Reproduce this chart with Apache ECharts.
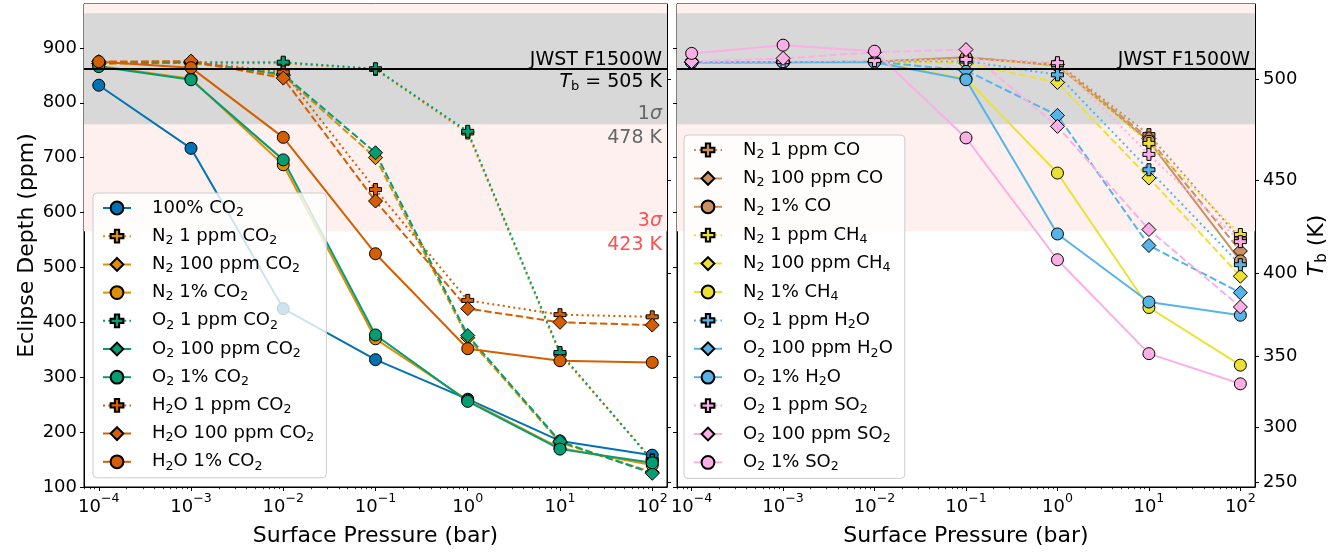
<!DOCTYPE html>
<html><head><meta charset="utf-8">
<script src="https://cdn.jsdelivr.net/npm/echarts@6/dist/echarts.min.js"></script>
<style>html,body{margin:0;padding:0;background:#fff}#c{width:1343px;height:552px}</style>
</head><body><div id="c"></div>
<script>
// ---------------- DATA ----------------
const PRESSURE_BAR = [1e-4, 1e-3, 1e-2, 1e-1, 1, 10, 100];
const X_TICK_EXPONENTS = [-4, -3, -2, -1, 0, 1, 2];
const Y_TICKS_PPM = [100, 200, 300, 400, 500, 600, 700, 800, 900];
const TB_TICKS_K = [250, 300, 350, 400, 450, 500];
const OBS_DEPTH_PPM = 862;
const OBS_TB_K = 505;
const SIGMA1_TB_K = 478;
const SIGMA3_TB_K = 423;

// Left panel (CO2 mixtures)
const co2_100pct      = [832, 717, 425, 332, 260, 184, 158];
const n2_1ppm_co2     = [872, 872, 872, 861, 745, 342, 150];
const n2_100ppm_co2   = [871, 873, 850, 700, 372, 181, 127];
const n2_1pct_co2     = [867, 844, 687, 370, 258, 171, 140];
const o2_1ppm_co2     = [874, 874, 874, 862, 748, 345, 148];
const o2_100ppm_co2   = [872, 874, 852, 709, 376, 183, 125];
const o2_1pct_co2     = [866, 842, 696, 377, 256, 169, 144];
const h2o_1ppm_co2    = [874, 875, 856, 642, 440, 414, 410];
const h2o_100ppm_co2  = [875, 876, 845, 621, 425, 400, 395];
const h2o_1pct_co2    = [875, 864, 737, 525, 352, 330, 327];

// Right panel (other absorbers)
const n2_1ppm_co      = [874, 874, 875, 881, 872, 742, 552];
const n2_100ppm_co    = [874, 874, 875, 882, 870, 735, 530];
const n2_1pct_co      = [874, 874, 875, 883, 868, 730, 512];
const n2_1ppm_ch4     = [874, 874, 875, 878, 870, 726, 560];
const n2_100ppm_ch4   = [874, 874, 875, 872, 837, 663, 484];
const n2_1pct_ch4     = [874, 874, 875, 844, 672, 427, 322];
const o2_1ppm_h2o     = [874, 874, 875, 876, 851, 678, 505];
const o2_100ppm_h2o   = [874, 874, 875, 859, 777, 540, 454];
const o2_1pct_h2o     = [874, 874, 874, 842, 561, 437, 413];
const o2_1ppm_so2     = [875, 875, 877, 879, 873, 706, 547];
const o2_100ppm_so2   = [875, 881, 892, 897, 757, 569, 428];
const o2_1pct_so2     = [890, 905, 894, 736, 514, 343, 288];

const LEFT_SERIES = [
  ['100% CO2', co2_100pct, '#0173B2', 'solid'],
  ['N2 1 ppm CO2', n2_1ppm_co2, '#DE8F05', 'dot'],
  ['N2 100 ppm CO2', n2_100ppm_co2, '#DE8F05', 'dash'],
  ['N2 1% CO2', n2_1pct_co2, '#DE8F05', 'solid'],
  ['O2 1 ppm CO2', o2_1ppm_co2, '#029E73', 'dot'],
  ['O2 100 ppm CO2', o2_100ppm_co2, '#029E73', 'dash'],
  ['O2 1% CO2', o2_1pct_co2, '#029E73', 'solid'],
  ['H2O 1 ppm CO2', h2o_1ppm_co2, '#D55E00', 'dot'],
  ['H2O 100 ppm CO2', h2o_100ppm_co2, '#D55E00', 'dash'],
  ['H2O 1% CO2', h2o_1pct_co2, '#D55E00', 'solid']
];
const RIGHT_SERIES = [
  ['N2 1 ppm CO', n2_1ppm_co, '#CA9161', 'dot'],
  ['N2 100 ppm CO', n2_100ppm_co, '#CA9161', 'dash'],
  ['N2 1% CO', n2_1pct_co, '#CA9161', 'solid'],
  ['N2 1 ppm CH4', n2_1ppm_ch4, '#ECE133', 'dot'],
  ['N2 100 ppm CH4', n2_100ppm_ch4, '#ECE133', 'dash'],
  ['N2 1% CH4', n2_1pct_ch4, '#ECE133', 'solid'],
  ['O2 1 ppm H2O', o2_1ppm_h2o, '#56B4E9', 'dot'],
  ['O2 100 ppm H2O', o2_100ppm_h2o, '#56B4E9', 'dash'],
  ['O2 1% H2O', o2_1pct_h2o, '#56B4E9', 'solid'],
  ['O2 1 ppm SO2', o2_1ppm_so2, '#FBAFE4', 'dot'],
  ['O2 100 ppm SO2', o2_100ppm_so2, '#FBAFE4', 'dash'],
  ['O2 1% SO2', o2_1pct_so2, '#FBAFE4', 'solid']
];

// ---------------- HELPERS ----------------
const FONT = '"DejaVu Sans"';
const X_MIN = -4.16, X_MAX = 2.16, Y_MIN = 100, Y_MAX = 980;
const K_LAMBDA = 14387.77 / 15.0; // hc/(lambda k) for 15 micron
const planck = T => 1 / (Math.exp(K_LAMBDA / T) - 1);
const tbToPpm = T => OBS_DEPTH_PPM * planck(T) / planck(OBS_TB_K);
const TB_TICK_PPM = TB_TICKS_K.map(tbToPpm);
const sig1Lo = tbToPpm(SIGMA1_TB_K), sig1Hi = 2 * OBS_DEPTH_PPM - sig1Lo;
const sig3Lo = tbToPpm(SIGMA3_TB_K), sig3Hi = Math.min(Y_MAX, 2 * OBS_DEPTH_PPM - sig3Lo);
const MINOR = [];
for (let e = -5; e <= 2; e++) for (let k = 2; k <= 9; k++) {
  const v = e + Math.log10(k);
  if (v > X_MIN && v < X_MAX) MINOR.push(v);
}
const PLUS = 'path://M2,0H4V2H6V4H4V6H2V4H0V2H2Z';
const STYLE = {
  dot:   { type: [2, 3.3], symbol: PLUS, size: 12 },
  dash:  { type: [7.4, 3.2], symbol: 'diamond', size: 14 },
  solid: { type: 'solid', symbol: 'circle', size: 12 }
};
const subText = n => n.replace(/([A-Za-z])(\d)/g, '$1{sub|$2}');

function makeSeries(def, xi, yi) {
  const [name, vals, color, st] = def;
  const s = STYLE[st];
  return {
    type: 'line', name, xAxisIndex: xi, yAxisIndex: yi,
    data: PRESSURE_BAR.map((p, i) => [Math.log10(p), vals[i]]),
    symbol: s.symbol, symbolSize: s.size, showAllSymbol: true,
    lineStyle: { color, width: 2, type: s.type },
    itemStyle: { color, borderColor: '#000', borderWidth: 1 },
    emphasis: { disabled: true }, animation: false, z: 3
  };
}

const LBL = 19;
const labelRich = {
  i: { fontFamily: FONT, fontStyle: 'italic', fontSize: LBL, lineHeight: 22 },
  sub: { fontFamily: FONT, fontSize: 13, lineHeight: 10, verticalAlign: 'bottom' },
  n: { fontFamily: FONT, fontSize: LBL, lineHeight: 22 }
};
const colored = (c) => ({ i: Object.assign({}, labelRich.i, { color: c }), n: Object.assign({}, labelRich.n, { color: c }) });
const HIDDEN_LINE = { color: 'rgba(0,0,0,0)', width: 1 };

function helperSeries(xi, yi, withSigmaLabels) {
  const mlData = [
    { yAxis: OBS_DEPTH_PPM, label: { show: true, position: 'insideEndTop', formatter: 'JWST F1500W', color: '#000', fontSize: LBL, fontFamily: FONT, distance: [5, -1] } }
  ];
  if (withSigmaLabels) {
    mlData.push({ yAxis: OBS_DEPTH_PPM, label: { show: true, position: 'insideEndBottom', formatter: '{i|T}{sub|b}{n| = ' + OBS_TB_K + ' K}', rich: labelRich, color: '#000', fontFamily: FONT, distance: [5, 2] } });
    mlData.push({ yAxis: sig1Lo, lineStyle: HIDDEN_LINE, label: { show: true, position: 'insideEndTop', formatter: '{n|1}{i|σ}', rich: colored('#666'), distance: [5, -1] } });
    mlData.push({ yAxis: sig1Lo, lineStyle: HIDDEN_LINE, label: { show: true, position: 'insideEndBottom', formatter: SIGMA1_TB_K + ' K', color: '#666', fontSize: LBL, fontFamily: FONT, distance: [5, 4] } });
    mlData.push({ yAxis: sig3Lo, lineStyle: HIDDEN_LINE, label: { show: true, position: 'insideEndTop', formatter: '{n|3}{i|σ}', rich: colored('#ff5050'), distance: [5, -1] } });
    mlData.push({ yAxis: sig3Lo, lineStyle: HIDDEN_LINE, label: { show: true, position: 'insideEndBottom', formatter: SIGMA3_TB_K + ' K', color: '#ff5050', fontSize: LBL, fontFamily: FONT, distance: [5, 4] } });
  }
  return {
    type: 'line', name: '_helper' + xi, xAxisIndex: xi, yAxisIndex: yi, data: [], silent: true, z: 1,
    animation: false,
    markArea: {
      silent: true,
      data: [
        [{ yAxis: sig3Lo, itemStyle: { color: '#fff0f0' } }, { yAxis: sig3Hi }],
        [{ yAxis: sig1Lo, itemStyle: { color: '#d8d8d8' } }, { yAxis: sig1Hi }]
      ]
    },
    markLine: {
      silent: true, symbol: 'none', animation: false,
      lineStyle: { color: '#000', width: 2, type: 'solid' },
      data: mlData
    }
  };
}

const TICK_FS = 18;
const tickLabelStyle = { fontFamily: FONT, fontSize: TICK_FS, color: '#000' };
function xMajor(gi) {
  return {
    type: 'value', gridIndex: gi, min: X_MIN, max: X_MAX, position: 'bottom',
    name: 'Surface Pressure (bar)', nameLocation: 'middle', nameGap: 38,
    nameTextStyle: { fontFamily: FONT, fontSize: 22, color: '#000' },
    axisLine: { show: true, onZero: false, lineStyle: { color: '#000', width: 1 } },
    axisTick: { show: true, inside: false, length: 4, customValues: X_TICK_EXPONENTS, lineStyle: { color: '#000' } },
    axisLabel: {
      show: true, customValues: X_TICK_EXPONENTS, margin: 5,
      formatter: v => '{b|10}{s|' + (v < 0 ? '\u2212' : '') + Math.abs(Math.round(v)) + '}',
      rich: {
        b: { fontFamily: FONT, fontSize: TICK_FS, color: '#000', lineHeight: 24, verticalAlign: 'bottom' },
        s: { fontFamily: FONT, fontSize: 12.6, color: '#000', lineHeight: 12, verticalAlign: 'top' }
      }
    },
    splitLine: { show: false }
  };
}
function xMinor(gi) {
  return {
    type: 'value', gridIndex: gi, min: X_MIN, max: X_MAX, position: 'bottom',
    axisLine: { show: false, onZero: false },
    axisTick: { show: true, length: 2.2, customValues: MINOR, lineStyle: { color: '#000', width: 0.8 } },
    axisLabel: { show: false }, splitLine: { show: false }
  };
}
function yPpm(gi, showLabels) {
  return {
    type: 'value', gridIndex: gi, min: Y_MIN, max: Y_MAX, position: 'left',
    name: showLabels ? 'Eclipse Depth (ppm)' : '', nameLocation: 'middle', nameGap: 43,
    nameTextStyle: { fontFamily: FONT, fontSize: 22, color: '#000' },
    axisLine: { show: true, onZero: false, lineStyle: { color: '#000' } },
    axisTick: { show: true, length: 4, customValues: Y_TICKS_PPM, lineStyle: { color: '#000' } },
    axisLabel: Object.assign({ show: showLabels, customValues: Y_TICKS_PPM, margin: 7 }, tickLabelStyle),
    splitLine: { show: false }
  };
}
function yTb(gi, showLabels) {
  return {
    type: 'value', gridIndex: gi, min: Y_MIN, max: Y_MAX, position: 'right',
    name: showLabels ? '{i|T}{sub|b}{n| (K)}' : '', nameLocation: 'middle', nameGap: 49, nameRotate: 90,
    nameTextStyle: { fontFamily: FONT, fontSize: 22, color: '#000', rich: {
      i: { fontFamily: FONT, fontStyle: 'italic', fontSize: 22, lineHeight: 26 },
      sub: { fontFamily: FONT, fontSize: 15, lineHeight: 12, verticalAlign: 'bottom' },
      n: { fontFamily: FONT, fontSize: 22, lineHeight: 26 } } },
    axisLine: { show: true, onZero: false, lineStyle: { color: '#000' } },
    axisTick: { show: true, length: 4, customValues: TB_TICK_PPM, lineStyle: { color: '#000' } },
    axisLabel: Object.assign({
      show: showLabels, customValues: TB_TICK_PPM, margin: 8,
      formatter: v => { const T = TB_TICKS_K.find(t => Math.abs(tbToPpm(t) - v) < 0.01); return T === undefined ? '' : String(T); }
    }, tickLabelStyle),
    splitLine: { show: false }
  };
}

function legend(defs, left, top, gap) {
  return {
    orient: 'vertical', left, top, data: defs.map(d => d[0]),
    backgroundColor: 'rgba(255,255,255,0.8)', borderColor: '#cccccc', borderWidth: 1, borderRadius: 4,
    padding: [4, 12, 5, 9], itemWidth: 28, itemHeight: 16, itemGap: gap, selectedMode: false,
    formatter: subText,
    textStyle: { fontFamily: FONT, fontSize: 18, color: '#000', lineHeight: 22, padding: [0, 0, 0, 16],
      rich: { sub: { fontFamily: FONT, fontSize: 12.6, lineHeight: 10, verticalAlign: 'bottom', color: '#000' } } }
  };
}

const series = [helperSeries(0, 0, true), helperSeries(2, 2, false)];
LEFT_SERIES.forEach(d => series.push(makeSeries(d, 0, 0)));
RIGHT_SERIES.forEach(d => series.push(makeSeries(d, 2, 2)));

const option = {
  backgroundColor: '#fff',
  animation: false,
  textStyle: { fontFamily: FONT },
  grid: [
    { left: 84, top: 4, width: 583, height: 484.5, show: true, borderColor: '#000', borderWidth: 1, backgroundColor: 'transparent', containLabel: false },
    { left: 677, top: 4, width: 578, height: 484.5, show: true, borderColor: '#000', borderWidth: 1, backgroundColor: 'transparent', containLabel: false }
  ],
  xAxis: [xMajor(0), xMinor(0), xMajor(1), xMinor(1)],
  yAxis: [yPpm(0, true), yTb(0, false), yPpm(1, false), yTb(1, true)],
  legend: [legend(LEFT_SERIES, 93, 193, 6.2), legend(RIGHT_SERIES, 684, 135, 6.4)],
  series
};
const chart = echarts.init(document.getElementById('c'), null, { renderer: 'canvas' });
chart.setOption(option);
</script></body></html>
